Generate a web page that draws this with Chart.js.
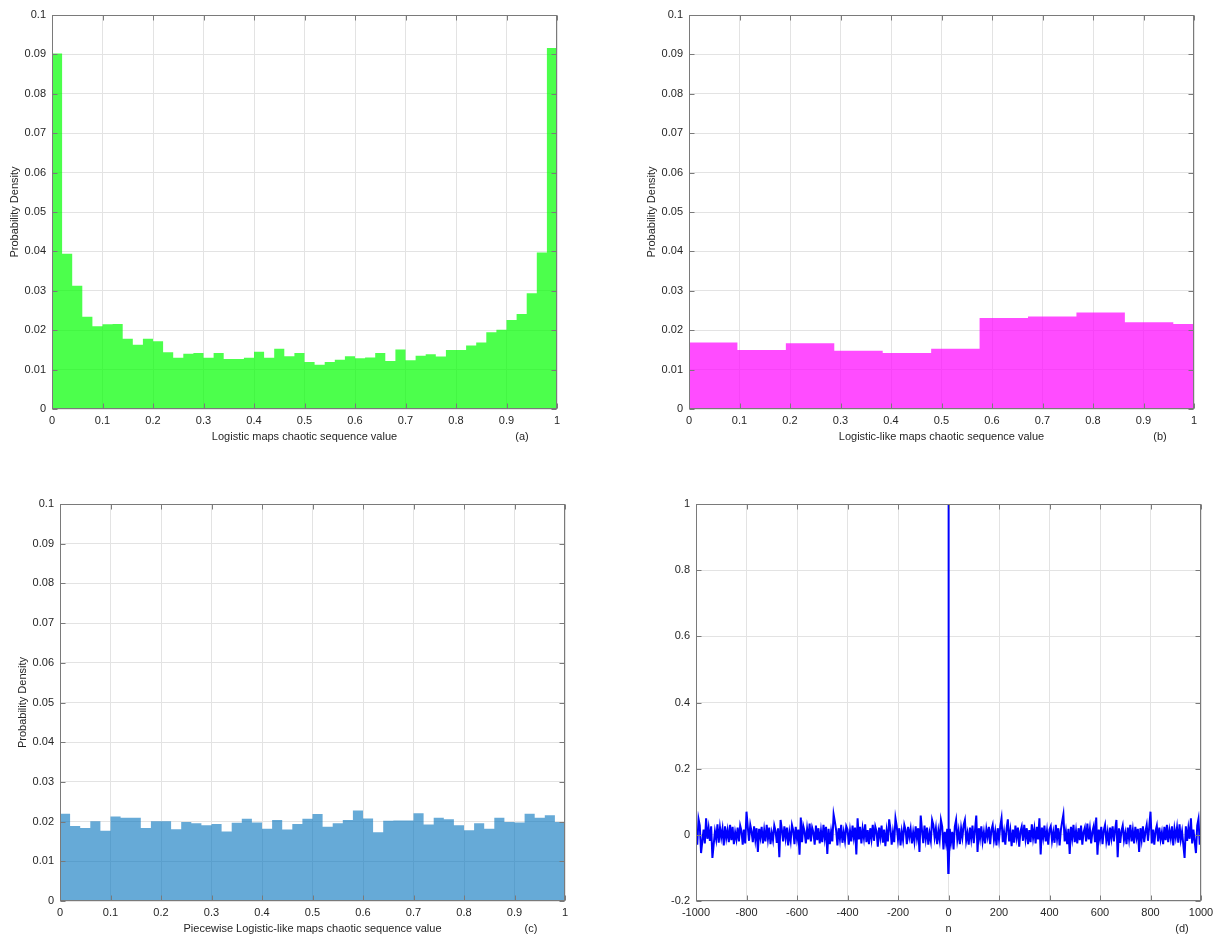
<!DOCTYPE html>
<html>
<head>
<meta charset="utf-8">
<script src="https://cdn.jsdelivr.net/npm/chart.js@4.4.1/dist/chart.umd.min.js"></script>
<style>
  html, body { margin: 0; padding: 0; background: #fff; }
  #page { position: relative; width: 1220px; height: 937px; overflow: hidden; }
  canvas { position: absolute; }
</style>
</head>
<body>
<div id="page">
  <canvas id="cA"></canvas>
  <canvas id="cB"></canvas>
  <canvas id="cC"></canvas>
  <canvas id="cD"></canvas>
</div>
<script>
/* ── datos ── */

// (a) histograma del mapa logístico, 50 bins de 0.02
const binWidthA = 0.02;
const densA = [
  0.0902, 0.0394, 0.0313, 0.0234, 0.0210, 0.0215, 0.0216, 0.0178, 0.0163, 0.0178,
  0.0172, 0.0144, 0.0130, 0.0140, 0.0142, 0.0130, 0.0142, 0.0127, 0.0127, 0.0130,
  0.0145, 0.0130, 0.0153, 0.0134, 0.0142, 0.0119, 0.0112, 0.0119, 0.0125, 0.0134,
  0.0129, 0.0131, 0.0142, 0.0122, 0.0151, 0.0124, 0.0135, 0.0139, 0.0133, 0.0150,
  0.0150, 0.0161, 0.0169, 0.0195, 0.0201, 0.0226, 0.0241, 0.0294, 0.0397, 0.0916
];

// (b) logistic-like, 11 bins (el último se corta en 1)
const binWidthB = 0.0959;
const densB = [0.0169, 0.0150, 0.0167, 0.0148, 0.0142, 0.0153, 0.0231, 0.0235, 0.0245, 0.0220, 0.0216];

// (c) piecewise logistic-like, 50 bins de 0.02
const binWidthC = 0.02;
const densC = [
  0.0220, 0.0189, 0.0184, 0.0201, 0.0177, 0.0213, 0.0210, 0.0210, 0.0184, 0.0201,
  0.0201, 0.0181, 0.0199, 0.0196, 0.0191, 0.0194, 0.0175, 0.0197, 0.0207, 0.0198,
  0.0182, 0.0204, 0.0180, 0.0194, 0.0207, 0.0219, 0.0187, 0.0196, 0.0204, 0.0228,
  0.0208, 0.0173, 0.0202, 0.0203, 0.0203, 0.0221, 0.0193, 0.0210, 0.0206, 0.0191,
  0.0178, 0.0196, 0.0182, 0.0210, 0.0199, 0.0198, 0.0220, 0.0210, 0.0216, 0.0199
];

// (d) autocorrelación (simétrica): lag 0, lag ±1 y lags 5..1000 cada 5
const acfLag0 = 1;
const acfLag1 = -0.115;
const lagStep = 5;
const acfPos = [
  0.018, -0.022, 0.009, -0.044, 0.025, 0.045, -0.015, 0.012, -0.028, 0.020,
  -0.008, 0.030, 0.045, -0.018, 0.005, -0.030, 0.022, -0.012, 0.028, -0.025,
  0.014, 0.058, -0.052, 0.020, -0.010, 0.026, -0.020, 0.008, -0.026, 0.018,
  -0.006, 0.024, -0.028, 0.015, 0.030, -0.016, 0.010, -0.032, 0.020, -0.014,
  0.026, 0.050, -0.022, 0.008, -0.030, 0.018, 0.047, -0.020, 0.012, -0.034,
  0.016, -0.024, 0.028, -0.008, 0.022, -0.036, 0.010, 0.025, -0.018, 0.030,
  -0.012, 0.020, -0.028, 0.014, -0.022, 0.032, -0.010, 0.018, -0.026, 0.024,
  -0.014, 0.050, -0.059, 0.022, -0.008, 0.028, -0.020, 0.012, -0.030, 0.016,
  0.026, -0.018, 0.008, -0.024, 0.030, -0.012, 0.020, -0.032, 0.014, 0.040,
  0.062, -0.020, 0.010, -0.028, 0.018, -0.058, 0.024, -0.010, 0.030, -0.022,
  0.012, -0.026, 0.020, -0.016, 0.028, -0.030, 0.008, 0.022, -0.020, 0.034,
  -0.014, 0.018, -0.026, 0.010, 0.026, -0.022, 0.052, -0.060, 0.016, -0.012,
  0.024, -0.028, 0.014, 0.030, -0.018, 0.008, -0.032, 0.022, -0.010, 0.026,
  -0.020, 0.016, 0.045, -0.068, 0.020, -0.024, 0.012, 0.028, -0.016, 0.006,
  -0.028, 0.022, -0.012, 0.030, -0.020, 0.014, -0.026, 0.024, -0.008, 0.018,
  -0.052, 0.020, -0.014, 0.026, -0.022, 0.010, 0.030, -0.018, 0.024, 0.070,
  -0.026, 0.016, -0.030, 0.012, 0.028, -0.020, 0.022, -0.014, 0.008, -0.028,
  0.024, -0.016, 0.030, -0.022, 0.014, -0.010, 0.026, -0.032, 0.018, -0.008,
  0.022, -0.024, 0.032, -0.014, 0.010, -0.030, -0.070, 0.026, -0.018, 0.020,
  -0.012, 0.050, -0.026, 0.016, -0.020, -0.055, 0.028, 0.048, -0.030, 0.018
];

const titleA = 'Logistic maps chaotic sequence value';
const titleB = 'Logistic-like maps chaotic sequence value';
const titleC = 'Piecewise Logistic-like maps chaotic sequence value';
const titleD = 'n';
const yTitle = 'Probability Density';

/* ── estilo ── */
Chart.defaults.font.family = '"Liberation Sans", Arial, Helvetica, sans-serif';
Chart.defaults.font.size = 11;
Chart.defaults.color = '#262626';

const GRID = '#e3e3e3';
const BOX = '#7a7a7a';
const Y_W = 52;   // ancho fijo del eje y (etiquetas + título)
const X_H = 36;   // alto fijo del eje x

// caja completa + marcas hacia dentro (estilo MATLAB)
const axesBox = {
  id: 'axesBox',
  afterDatasetsDraw(chart) {
    const { ctx, chartArea: a, scales } = chart;
    const L = Math.round(a.left) + 0.5, R = Math.round(a.right) - 0.5;
    const T = Math.round(a.top) + 0.5, B = Math.round(a.bottom) - 0.5;
    ctx.save();
    ctx.strokeStyle = BOX;
    ctx.lineWidth = 1;
    ctx.strokeRect(L, T, R - L, B - T);
    ctx.beginPath();
    scales.x.ticks.forEach(t => {
      const px = Math.round(scales.x.getPixelForValue(t.value)) + 0.5;
      ctx.moveTo(px, B); ctx.lineTo(px, B - 5);
      ctx.moveTo(px, T); ctx.lineTo(px, T + 5);
    });
    scales.y.ticks.forEach(t => {
      const py = Math.round(scales.y.getPixelForValue(t.value)) + 0.5;
      ctx.moveTo(L, py); ctx.lineTo(L + 5, py);
      ctx.moveTo(R, py); ctx.lineTo(R - 5, py);
    });
    ctx.stroke();
    ctx.restore();
  }
};

// etiqueta (a), (b)... bajo el eje
const panelTag = {
  id: 'panelTag',
  afterDraw(chart, args, opts) {
    if (!opts.text) return;
    const { ctx, chartArea: a } = chart;
    ctx.save();
    ctx.font = '11px "Liberation Sans", Arial, sans-serif';
    ctx.fillStyle = '#262626';
    ctx.textAlign = 'center';
    ctx.textBaseline = 'middle';
    ctx.fillText(opts.text, a.right - opts.dx, a.bottom + 28);
    ctx.restore();
  }
};

const fmt = v => String(Math.round(v * 1000) / 1000);

function histPoints(dens, w) {
  const pts = dens.map((v, i) => ({ x: i * w, y: v }));
  pts.push({ x: dens.length * w, y: dens[dens.length - 1] });
  return pts;
}

function placeCanvas(id, rect) {
  const c = document.getElementById(id);
  c.style.left = rect[0] + 'px';
  c.style.top = rect[1] + 'px';
  c.width = rect[2];
  c.height = rect[3];
  return c;
}

function padFor(rect, area) {
  return {
    left: area[0] - rect[0] - Y_W,
    top: area[1] - rect[1],
    right: rect[0] + rect[2] - area[2],
    bottom: rect[1] + rect[3] - area[3] - X_H
  };
}

function scalesFor(xr, yr, xTitle, yTitleTxt) {
  return {
    x: {
      type: 'linear', min: xr[0], max: xr[1], offset: false,
      ticks: { stepSize: xr[2], padding: 5, callback: fmt, maxRotation: 0, autoSkip: false },
      grid: { color: GRID, drawTicks: false, tickLength: 0 },
      border: { display: false },
      title: { display: true, text: xTitle, padding: { top: 0, bottom: 1 } },
      afterFit: s => { s.height = X_H; }
    },
    y: {
      type: 'linear', min: yr[0], max: yr[1],
      ticks: { stepSize: yr[2], padding: 6, callback: fmt, autoSkip: false },
      grid: { color: GRID, drawTicks: false, tickLength: 0 },
      border: { display: false },
      title: { display: !!yTitleTxt, text: yTitleTxt, padding: { top: 8, bottom: 0 } },
      afterFit: s => { s.width = Y_W; }
    }
  };
}

function baseOptions(rect, area, scales, tag, dx) {
  return {
    responsive: false,
    animation: false,
    events: [],
    layout: { padding: padFor(rect, area) },
    scales: scales,
    plugins: {
      legend: { display: false },
      tooltip: { enabled: false },
      panelTag: { text: tag, dx: dx }
    }
  };
}

function histChart(id, rect, area, dens, w, fill, xTitle, tag, dx) {
  const c = placeCanvas(id, rect);
  return new Chart(c, {
    type: 'line',
    data: {
      datasets: [{
        data: histPoints(dens, w),
        stepped: 'before',
        fill: 'origin',
        backgroundColor: fill,
        borderColor: 'rgba(0,0,0,0)',
        borderWidth: 1,
        pointRadius: 0
      }]
    },
    options: baseOptions(rect, area, scalesFor([0, 1, 0.1], [0, 0.1, 0.01], xTitle, yTitle), tag, dx),
    plugins: [axesBox, panelTag]
  });
}

histChart('cA', [0, 0, 610, 468], [52, 15, 557, 409], densA, binWidthA, 'rgba(0,255,0,0.7)', titleA, '(a)', 35);
histChart('cB', [610, 0, 610, 468], [689, 15, 1194, 409], densB, binWidthB, 'rgba(255,0,255,0.7)', titleB, '(b)', 34);
histChart('cC', [0, 468, 610, 469], [60, 504, 565, 901], densC, binWidthC, 'rgba(0,114,189,0.6)', titleC, '(c)', 34);

// (d) serie completa a partir de la mitad positiva
const acfPoints = [];
for (let i = acfPos.length - 1; i >= 0; i--) acfPoints.push({ x: -lagStep * (i + 1), y: acfPos[i] });
acfPoints.push({ x: -1, y: acfLag1 }, { x: 0, y: acfLag0 }, { x: 1, y: acfLag1 });
acfPos.forEach((v, i) => acfPoints.push({ x: lagStep * (i + 1), y: v }));

const rectD = [610, 468, 610, 469], areaD = [696, 504, 1201, 901];
new Chart(placeCanvas('cD', rectD), {
  type: 'line',
  data: {
    datasets: [{
      data: acfPoints,
      borderColor: '#0000ff',
      borderWidth: 2,
      pointRadius: 0,
      fill: false,
      tension: 0
    }]
  },
  options: baseOptions(rectD, areaD, scalesFor([-1000, 1000, 200], [-0.2, 1, 0.2], titleD, ''), '(d)', 19),
  plugins: [axesBox, panelTag]
});
</script>
</body>
</html>
